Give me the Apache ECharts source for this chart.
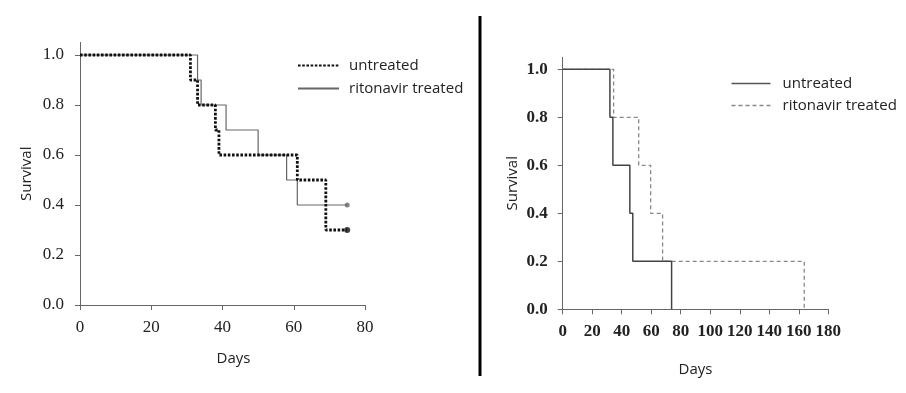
<!DOCTYPE html>
<html>
<head>
<meta charset="utf-8">
<script src="https://cdn.jsdelivr.net/npm/echarts@6/dist/echarts.min.js"></script>
<style>
html,body{margin:0;padding:0;background:#fff;}
#c{width:906px;height:393px;}
</style>
</head>
<body>
<div id="c"></div>
<script>
// ---- Data ----
// Left panel
const leftUntreatedDays = [0, 31, 33, 38, 39, 61, 69, 75];
const leftUntreatedSurv = [1.0, 0.9, 0.8, 0.7, 0.6, 0.5, 0.3, 0.3];
const leftRitonavirDays = [0, 33, 34, 41, 50, 58, 61, 75];
const leftRitonavirSurv = [1.0, 0.9, 0.8, 0.7, 0.6, 0.5, 0.4, 0.4];
// Right panel
const rightUntreatedDays = [0, 32, 34, 45.5, 47.5, 73.8];
const rightUntreatedSurv = [1.0, 0.8, 0.6, 0.4, 0.2, 0.0];
const rightRitonavirDays = [0, 34.5, 51.5, 59.6, 67.7, 163.7];
const rightRitonavirSurv = [1.0, 0.8, 0.6, 0.4, 0.2, 0.0];
// Tick labels
const yTicks = [0, 0.2, 0.4, 0.6, 0.8, 1.0];
const leftXTicks = [0, 20, 40, 60, 80];
const rightXTicks = [0, 20, 40, 60, 80, 100, 120, 140, 160, 180];
const seriesNames = ['untreated', 'ritonavir treated'];

const pairs = (xs, ys) => xs.map((x, i) => [x, ys[i]]);
const last = (xs, ys) => [[xs[xs.length - 1], ys[ys.length - 1]]];

const serif = '"Liberation Serif", "DejaVu Serif", serif';
const sans = '"Open Sans", "Noto Sans", sans-serif';

function yAxis(gridIndex, opts) {
  return {
    type: 'value', gridIndex, min: 0, max: 1.05,
    name: 'Survival', nameLocation: 'middle', nameGap: opts.nameGap,
    nameTextStyle: Object.assign({ fontFamily: sans, fontSize: 15, color: '#222' }, opts.nameStyle || {}),
    splitLine: { show: false },
    axisLine: { show: true, lineStyle: { color: '#666', width: 1 } },
    axisTick: { show: true, customValues: yTicks, length: 5, lineStyle: { color: '#666' } },
    axisLabel: {
      customValues: yTicks, margin: opts.margin,
      fontFamily: serif, fontSize: opts.fontSize, color: '#222', fontWeight: opts.weight,
      formatter: v => v.toFixed(1)
    }
  };
}
function xAxis(gridIndex, max, ticks, opts) {
  return {
    type: 'value', gridIndex, min: 0, max: max, interval: 20,
    name: 'Days', nameLocation: 'middle', nameGap: opts.nameGap,
    nameTextStyle: { fontFamily: sans, fontSize: 15, color: '#222', padding: opts.namePad || 0 },
    splitLine: { show: false },
    axisLine: { show: true, onZero: false, lineStyle: { color: '#666', width: 1 } },
    axisTick: { show: true, customValues: ticks, length: 5, lineStyle: { color: '#666' } },
    axisLabel: {
      customValues: ticks, margin: opts.margin,
      fontFamily: serif, fontSize: opts.fontSize, color: '#222', fontWeight: opts.weight
    }
  };
}

const chart = echarts.init(document.getElementById('c'), null, { renderer: 'canvas' });
chart.setOption({
  backgroundColor: '#fff',
  animation: false,
  grid: [
    { left: 80, right: 541, top: 42.5, bottom: 88 },
    { left: 562.7, right: 77.7, top: 57.3, bottom: 83.7 }
  ],
  xAxis: [
    xAxis(0, 80, leftXTicks, { nameGap: 46, margin: 14, weight: 'normal', fontSize: 17, namePad: [0, 0, 0, 22] }),
    xAxis(1, 180, rightXTicks, { nameGap: 53, margin: 14, weight: 'bold', fontSize: 17 })
  ],
  yAxis: [
    yAxis(0, { nameGap: 46, margin: 16, weight: 'normal', fontSize: 17 }),
    yAxis(1, { nameGap: 42, margin: 15, weight: 'bold', fontSize: 17,
      nameStyle: { backgroundColor: '#fff', padding: [0, 2, 0, 2] } })
  ],
  legend: [
    {
      orient: 'vertical', left: 297, top: 58, padding: 0, itemWidth: 41, itemHeight: 14, itemGap: 8,
      itemStyle: { opacity: 0, borderWidth: 0 },
      textStyle: { fontFamily: sans, fontSize: 15, color: '#222', padding: [0, 0, 0, 5] },
      data: seriesNames.map(n => ({ name: n })),
      seriesIndex: [0, 1]
    }
  ],
  graphic: [
    { type: 'line', shape: { x1: 480, y1: 16, x2: 480, y2: 376 }, style: { stroke: '#000', lineWidth: 3 } },
    // right panel legend (series names repeat, so drawn as a second legend-like group)
    {
      type: 'group', left: 729, top: 76,
      children: [
        { type: 'line', shape: { x1: 0, y1: 7, x2: 39, y2: 7 }, style: { stroke: '#555', lineWidth: 1.5 } },
        { type: 'text', x: 51, y: 7, style: { text: seriesNames[0], font: '15px ' + sans, fill: '#222', verticalAlign: 'middle' } },
        { type: 'line', shape: { x1: 0, y1: 29, x2: 39, y2: 29 }, style: { stroke: '#888', lineWidth: 1.3, lineDash: [4, 3] } },
        { type: 'text', x: 51, y: 29, style: { text: seriesNames[1], font: '15px ' + sans, fill: '#222', verticalAlign: 'middle' } }
      ]
    }
  ],
  series: [
    {
      name: seriesNames[0], type: 'line', step: 'end', xAxisIndex: 0, yAxisIndex: 0,
      symbol: 'none', data: pairs(leftUntreatedDays, leftUntreatedSurv),
      itemStyle: { color: '#111' },
      lineStyle: { color: '#111', width: 2.8, type: [2.6, 1.6], cap: 'butt' }, z: 3
    },
    {
      name: seriesNames[1], type: 'line', step: 'end', xAxisIndex: 0, yAxisIndex: 0,
      symbol: 'none', data: pairs(leftRitonavirDays, leftRitonavirSurv),
      itemStyle: { color: '#666' },
      lineStyle: { color: '#666', width: 1.2, type: 'solid' }, z: 2
    },
    {
      type: 'scatter', xAxisIndex: 0, yAxisIndex: 0, symbol: 'circle', symbolSize: 6,
      data: last(leftUntreatedDays, leftUntreatedSurv), itemStyle: { color: '#111' }, z: 4
    },
    {
      type: 'scatter', xAxisIndex: 0, yAxisIndex: 0, symbol: 'circle', symbolSize: 5,
      data: last(leftRitonavirDays, leftRitonavirSurv), itemStyle: { color: '#666' }, z: 4
    },
    {
      name: 'r_' + seriesNames[0], type: 'line', step: 'end', xAxisIndex: 1, yAxisIndex: 1,
      symbol: 'none', data: pairs(rightUntreatedDays, rightUntreatedSurv),
      lineStyle: { color: '#444', width: 1.5, type: 'solid' }, z: 3
    },
    {
      name: 'r_' + seriesNames[1], type: 'line', step: 'end', xAxisIndex: 1, yAxisIndex: 1,
      symbol: 'none', data: pairs(rightRitonavirDays, rightRitonavirSurv),
      lineStyle: { color: '#888', width: 1.3, type: [4, 3] }, z: 2
    }
  ]
});
</script>
</body>
</html>
